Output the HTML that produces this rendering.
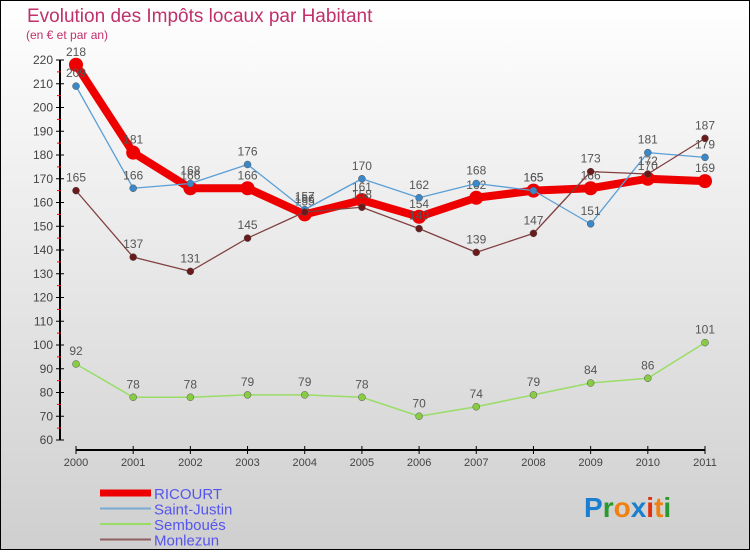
<!DOCTYPE html>
<html><head><meta charset="utf-8"><style>
body{margin:0}
#c{width:750px;height:550px;position:relative;font-family:"Liberation Sans",sans-serif}
</style></head><body>
<div id="c">
<svg id="s" width="750" height="550" xmlns="http://www.w3.org/2000/svg">
<defs><linearGradient id="bg" x1="0" y1="0" x2="0" y2="1"><stop offset="0" stop-color="#ffffff"/><stop offset="1" stop-color="#cfcfcf"/></linearGradient></defs>
<rect x="0.5" y="0.5" width="749" height="549" fill="url(#bg)" stroke="#000"/>
<text x="27" y="22" font-size="19" fill="#c0306a">Evolution des Impôts locaux par Habitant</text>
<text x="26" y="39" font-size="12" fill="#c0306a">(en € et par an)</text>
<g id="axes"></g><g id="series"></g><g id="legend"></g>
<text x="584" y="517" font-size="28" font-weight="bold"><tspan fill="#1a7fd0">P</tspan><tspan fill="#2a9a30">r</tspan><tspan fill="#f08010">o</tspan><tspan fill="#1a7fd0">x</tspan><tspan fill="#e03010">i</tspan><tspan fill="#f08010">t</tspan><tspan fill="#2a9a30">i</tspan></text>
</svg></div>
<script>
const years=[2000,2001,2002,2003,2004,2005,2006,2007,2008,2009,2010,2011];
const ricourt=[218,181,166,166,155,161,154,162,165,166,170,169];
const saintJustin=[209,166,168,176,157,170,162,168,165,151,181,179];
const semboues=[92,78,78,79,79,78,70,74,79,84,86,101];
const monlezun=[165,137,131,145,156,158,149,139,147,173,172,187];
const yTicks=[60,70,80,90,100,110,120,130,140,150,160,170,180,190,200,210,220];
const NS="http://www.w3.org/2000/svg";
const X=i=>76+i*(705-76)/11;
const Y=v=>440-(v-60)*380/160;
function mk(t,a,p){const e=document.createElementNS(NS,t);for(const k in a)e.setAttribute(k,a[k]);p.appendChild(e);return e;}
const ax=document.getElementById('axes');
const yl=mk('line',{x1:60,y1:60,x2:60,y2:440,stroke:'#000','stroke-width':2},ax);


yTicks.forEach(v=>{
 mk('line',{x1:56,y1:Y(v),x2:64,y2:Y(v),stroke:'#000'},ax);
 if(v<220)mk('line',{x1:57,y1:Y(v+5),x2:61,y2:Y(v+5),stroke:'#e00'},ax);
 const t=mk('text',{x:53,y:Y(v)+4,'font-size':12,fill:'#444','text-anchor':'end'},ax);t.textContent=v;
 
 
});
const xl=mk('line',{x1:76,y1:450,x2:705,y2:450,stroke:'#000','stroke-width':2},ax);


years.forEach((y,i)=>{
 mk('line',{x1:X(i),y1:446,x2:X(i),y2:454,stroke:'#000'},ax);
 const t=mk('text',{x:X(i),y:466,'font-size':11,fill:'#444','text-anchor':'middle'},ax);t.textContent=y;
 
 
});
const sg=document.getElementById('series');
const series=[
 {n:'ricourt',d:ricourt,c:'#ee0000',pc:'#ee0000',w:8,r:7},
 {n:'saint-justin',d:saintJustin,c:'#5b9fd6',pc:'#3a88c8',w:1.3,r:3.5},
 {n:'monlezun',d:monlezun,c:'#804040',pc:'#6a1a1a',w:1.3,r:3.5},
 {n:'semboues',d:semboues,c:'#99dd66',pc:'#88cc44',w:1.5,r:3.5}
];
series.forEach(s=>{
 const g=mk('g',{},sg);
 
 
 const pl=mk('polyline',{points:s.d.map((v,i)=>X(i)+','+Y(v)).join(' '),fill:'none',stroke:s.c,'stroke-width':s.w,'stroke-linejoin':'round'},g);
 
 
 s.d.forEach((v,i)=>{
  const c=mk('circle',{cx:X(i),cy:Y(v),r:s.r,fill:s.pc,stroke:s.n=='ricourt'?'none':'#555','stroke-width':0.5},g);
  
  
  const t=mk('text',{x:X(i),y:Y(v)-9,'font-size':12,fill:'#555','text-anchor':'middle'},g);t.textContent=v;
  
  
 });
});
const lg=document.getElementById('legend');
const leg=[['RICOURT','#ee0000',7],['Saint-Justin','#7aaad0',2],['Semboués','#99dd66',2],['Monlezun','#906060',2]];
leg.forEach((l,i)=>{
 const y=493+i*15.5;
 const ln=mk('line',{x1:100,y1:y,x2:151,y2:y,stroke:l[1],'stroke-width':l[2]},lg);
 
 
 const t=mk('text',{x:154,y:y+6,'font-size':15,fill:'#5555ee'},lg);t.textContent=l[0];
 
 
});
</script></body></html>
